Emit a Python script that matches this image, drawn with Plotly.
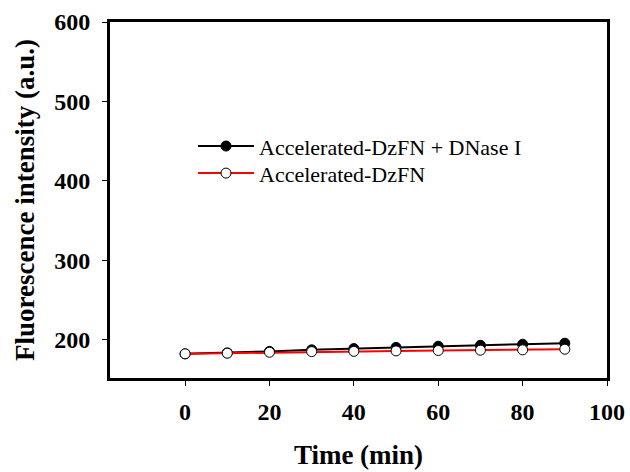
import plotly.graph_objects as go

time_min = [0, 10, 20, 30, 40, 50, 60, 70, 80, 90]
dnase = [182.4, 183.6, 185.5, 187.4, 189.0, 190.5, 192.0, 193.2, 194.5, 195.8]
dzfn = [182.4, 183.2, 184.4, 185.2, 185.5, 186.1, 186.6, 187.0, 187.4, 188.2]

names = ["Accelerated-DzFN + DNase I", "Accelerated-DzFN"]

font_family = "Liberation Serif"

fig = go.Figure()
fig.add_trace(go.Scatter(
    x=time_min, y=dnase, name=names[0], mode="lines+markers",
    line=dict(color="black", width=2),
    marker=dict(symbol="circle", size=10, color="black", line=dict(color="black", width=1)),
    legend="legend",
))
fig.add_trace(go.Scatter(
    x=time_min, y=dzfn, name=names[1], mode="lines+markers",
    line=dict(color="red", width=2),
    marker=dict(symbol="circle", size=10, color="white", line=dict(color="black", width=1)),
    legend="legend2",
))

legend_common = dict(
    xanchor="left", yanchor="top",
    bgcolor="rgba(0,0,0,0)", font=dict(size=22, family=font_family),
    itemwidth=56,
)

fig.update_layout(
    width=630, height=472,
    margin=dict(l=110, r=23, t=22, b=94),
    plot_bgcolor="white", paper_bgcolor="white",
    font=dict(family=font_family, color="black"),
    showlegend=True,
    legend=dict(x=0.167, y=0.71, **legend_common),
    legend2=dict(x=0.167, y=0.634, **legend_common),
    xaxis=dict(
        range=[-17.8, 100], tickvals=[0, 20, 40, 60, 80, 100],
        ticks="outside", ticklen=5, tickwidth=1, tickcolor="black",
        ticklabelstandoff=5, automargin=False,
        showline=True, linecolor="black", linewidth=3, mirror=True,
        showgrid=False, zeroline=False,
        tickfont=dict(size=24, family=font_family, weight="bold"),
        title=dict(text="<b>Time (min)</b>", font=dict(size=27, family=font_family), standoff=22),
    ),
    yaxis=dict(
        range=[152, 600], tickvals=[200, 300, 400, 500, 600],
        ticks="outside", ticklen=5, tickwidth=1, tickcolor="black",
        ticklabelstandoff=7, automargin=False,
        showline=True, linecolor="black", linewidth=3, mirror=True,
        showgrid=False, zeroline=False,
        tickfont=dict(size=24, family=font_family, weight="bold"),
        title=dict(text="<b>Fluorescence intensity (a.u.)</b>", font=dict(size=27, family=font_family), standoff=12),
    ),
)

fig.write_html("out.html")
